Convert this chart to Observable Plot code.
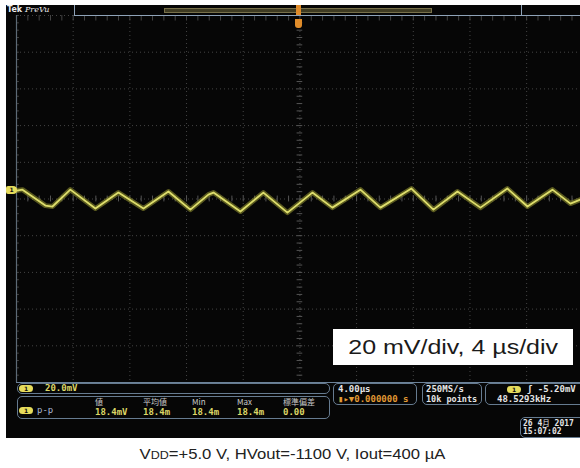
<!DOCTYPE html>
<html><head><meta charset="utf-8">
<script src="https://cdn.jsdelivr.net/npm/d3@7"></script>
<script src="https://cdn.jsdelivr.net/npm/@observablehq/plot@0.6"></script>
<style>
body{margin:0;background:#fff;}
#wrap{position:relative;width:580px;height:468px;background:#fff;overflow:hidden;}
#scope{position:absolute;left:6px;top:5px;width:574px;height:433px;background:#060606;overflow:hidden;}
.o{position:absolute;}
.t{position:absolute;white-space:nowrap;font-family:"DejaVu Sans Mono",monospace;font-size:9px;font-weight:bold;line-height:9px;color:#e4e4e4;}
.y{color:#ddd766;}
.or{color:#e39a34;}
.h{font-family:"Noto Sans CJK JP","DejaVu Sans",sans-serif;font-weight:normal;color:#c8c8c8;font-size:8px;line-height:8px;}
.box{position:absolute;border:1px solid #667b90;border-radius:5px;box-sizing:border-box;}
.pill{position:absolute;background:#e6dc5c;border-radius:4px;color:#111;font:bold 6px "DejaVu Sans",sans-serif;text-align:center;line-height:7px;}
#label{position:absolute;left:333px;top:329px;width:240px;height:36px;background:#fff;display:flex;align-items:center;justify-content:center;}
#label span{font-family:"Liberation Sans",Arial,sans-serif;font-size:21px;color:#1a1a1a;display:inline-block;transform:scaleX(1.19);}
#cap{position:absolute;left:0;width:586px;top:445px;text-align:center;}
#cap span{font-family:"Liberation Sans",Arial,sans-serif;font-size:14px;color:#222;display:inline-block;transform:scaleX(1.19);}
#cap small{font-size:10.5px;}
</style></head>
<body>
<div id="wrap">
  <div id="scope"></div>
</div>
<script>
// ---- data ----
// time axis, µs (4 µs/div, trigger at 0)
const timeUs = [-20.0, -19.58, -17.96, -17.46, -16.20, -14.43, -12.81, -11.04, -9.28, -7.73, -6.46, -6.10,
  -4.20, -2.58, -0.88, 0.88, 2.29, 4.27, 5.68, 7.87, 9.42, 11.12, 12.74, 14.64, 16.06, 17.82, 19.09, 19.80];
// CH1 ripple, mV relative to the CH1 ground marker (20 mV/div)
const ch1mV = [0, 0.5, -8.2, -8.7, 0.5, -9.8, -1.1, -9.8, -0.5, -10.4, -2.2, -1.1,
  -11.4, -1.1, -12.0, -1.1, -9.3, 0.5, -9.3, 1.1, -10.4, -0.5, -9.3, 1.1, -8.7, 0.5, -7.1, -4.9];
const ch1Offset = 4.6;          // CH1 ground marker position on screen, mV above centre
const xGrid = [-20, -16, -12, -8, -4, 0, 4, 8, 12, 16];
const yGrid = [-100, -80, -60, -40, -20, 0, 20, 40, 60, 80, 100];
const xMinor = d3.range(-20, 19.8, 0.8);
const yMinor = d3.range(-100, 100.1, 4);

const measHeaders = ["値", "平均値", "Min", "Max", "標準偏差"];
const measValues = ["18.4mV", "18.4m", "18.4m", "18.4m", "0.00"];

const wave = timeUs.map((t, i) => ({t, v: ch1mV[i]}));

const chart = Plot.plot({
  width: 574, height: 433,
  marginLeft: 10, marginRight: 0, marginTop: 10, marginBottom: 56,
  style: {background: "transparent", overflow: "hidden"},
  x: {domain: [-20, 19.8], axis: null},
  y: {domain: [-100, 100], axis: null},
  marks: [
    Plot.ruleX(xGrid, {stroke: "#444", strokeDasharray: "1 3"}),
    Plot.ruleY(yGrid, {stroke: "#444", strokeDasharray: "1 3"}),
    Plot.ruleX(xMinor, {y1: -1.6, y2: 1.6, stroke: "#555"}),
    Plot.ruleY(yMinor, {x1: -0.2, x2: 0.2, stroke: "#555"}),
    Plot.ruleX(xMinor, {y1: 100, y2: 97, stroke: "#444"}),
    Plot.ruleY(yMinor, {x1: -20, x2: -19.8, stroke: "#444"}),
    Plot.ruleX([-20], {stroke: "#5d6a76", strokeWidth: 1.2}),
    Plot.ruleY([-100], {stroke: "#6c8299", strokeWidth: 1.2}),
    Plot.line(wave, {x: "t", y: d => d.v + ch1Offset, stroke: "#8f8f2e", strokeWidth: 5, strokeOpacity: 0.6, strokeLinejoin: "round"}),
    Plot.line(wave, {x: "t", y: d => d.v + ch1Offset, stroke: "#dede6c", strokeWidth: 1.8, strokeLinejoin: "round"})
  ]
});
document.getElementById("scope").appendChild(chart);

const wrap = document.getElementById("wrap");
function add(html) { wrap.insertAdjacentHTML("beforeend", html); }

// header bar
add(`<div class="t" style="left:7px;top:6px;font-family:'DejaVu Sans';font-size:8px;line-height:8px;color:#eee">Tek <i style="font-family:'DejaVu Serif';font-weight:normal">PreVu</i></div>`);
add(`<div class="o" style="left:74px;top:5px;width:448px;height:11px;border:1px solid #8fa3b8;border-top:none;box-sizing:border-box"></div>`);
add(`<div class="o" style="left:164px;top:8px;width:268px;height:5px;background:#3f3b22;border:1px solid #77704a;box-sizing:border-box"></div>`);
add(`<div class="o" style="left:522px;top:5px;width:60px;height:11px;border-bottom:1px solid #8fa3b8;box-sizing:border-box"></div>`);
add(`<div class="o" style="left:296px;top:5px;width:5px;height:10px;background:#e08c2a"></div>`);
add(`<div class="o" style="left:295px;top:19px;width:7px;height:9px;background:#e08c2a;border-radius:0 0 3px 3px"></div>`);

// CH1 ground marker
const gy = chart.scale("y").apply(ch1Offset) + 5;
add(`<div class="pill" style="left:6px;top:${gy - 4}px;width:11px;height:8px;border-radius:2px 4px 4px 2px">1</div>`);

// bottom panels
add(`<div class="box" style="left:17px;top:383px;width:313px;height:11px"></div>`);
add(`<div class="pill" style="left:19px;top:385px;width:14px;height:7px">1</div>`);
add(`<div class="t y" style="left:45px;top:384px">20.0mV</div>`);
add(`<div class="box" style="left:17px;top:396px;width:313px;height:23px"></div>`);
add(`<div class="pill" style="left:19px;top:407px;width:14px;height:7px">1</div>`);
add(`<div class="t" style="left:37px;top:406px;color:#aab8d4;font-weight:normal">p-p</div>`);
const colX = [95, 143, 192, 237, 283];
measHeaders.forEach((h, i) => add(`<div class="t h" style="left:${colX[i]}px;top:398px">${h}</div>`));
measValues.forEach((v, i) => add(`<div class="t y" style="left:${colX[i]}px;top:408px">${v}</div>`));

add(`<div class="box" style="left:333px;top:383px;width:84px;height:22px"></div>`);
add(`<div class="t" style="left:338px;top:385px">4.00µs</div>`);
add(`<div class="t or" style="left:338px;top:395px">▮▸▼0.000000 s</div>`);
add(`<div class="box" style="left:422px;top:383px;width:60px;height:22px"></div>`);
add(`<div class="t" style="left:426px;top:385px">250MS/s</div>`);
add(`<div class="t" style="left:426px;top:395px;font-size:8.5px">10k points</div>`);
add(`<div class="box" style="left:485px;top:383px;width:110px;height:22px"></div>`);
add(`<div class="pill" style="left:507px;top:386px;width:14px;height:7px">1</div>`);
add(`<div class="t" style="left:527px;top:385px">ʃ -5.20mV</div>`);
add(`<div class="t" style="left:497px;top:395px">48.5293kHz</div>`);
add(`<div class="box" style="left:520px;top:417px;width:80px;height:21px"></div>`);
add(`<div class="t" style="left:523px;top:419px;font-size:8px;line-height:8px">26 4<span style="font-family:'Noto Sans CJK JP';font-weight:normal;font-size:7.5px">月</span> 2017</div>`);
add(`<div class="t" style="left:523px;top:428px;font-size:8px;line-height:8px">15:07:02</div>`);

// annotation and caption
add(`<div id="label"><span>20 mV/div, 4 µs/div</span></div>`);
add(`<div id="cap"><span>V<small>DD</small>=+5.0 V, HVout=-1100 V, Iout=400 µA</span></div>`);
</script>
</body></html>
